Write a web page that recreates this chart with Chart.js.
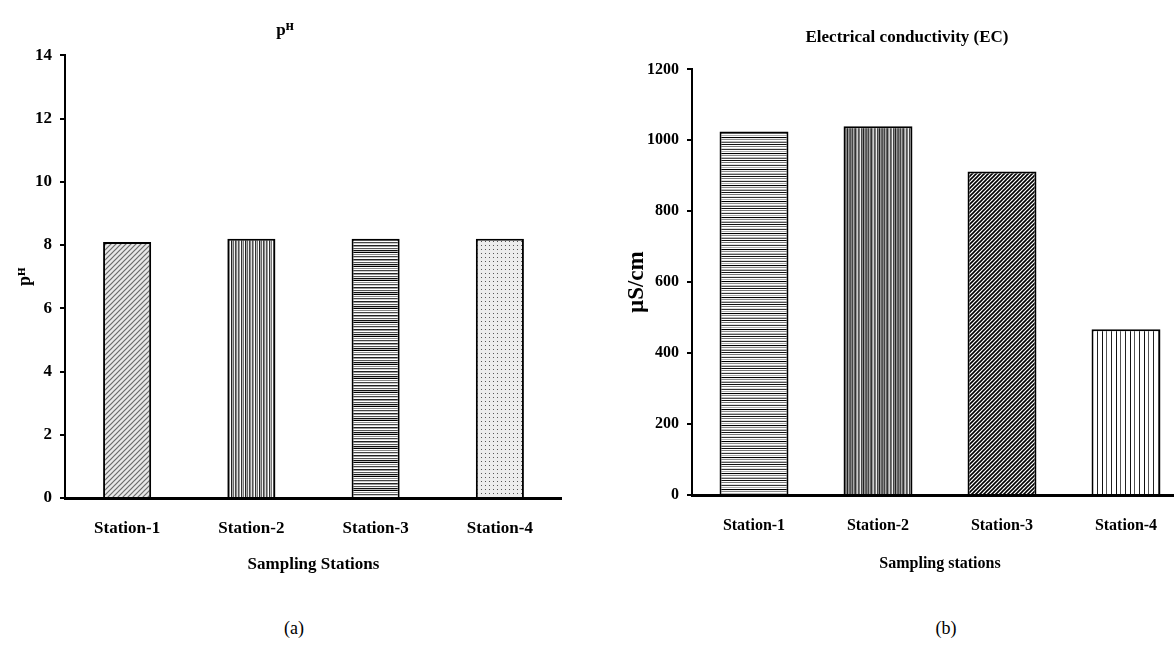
<!DOCTYPE html>
<html>
<head>
<meta charset="utf-8">
<title>Water quality by station</title>
<script src="https://cdn.jsdelivr.net/npm/chart.js@4.4.0/dist/chart.umd.min.js"></script>
<style>
  html, body {
    margin: 0;
    width: 1174px;
    height: 649px;
    overflow: hidden;
    background: #fff;
    position: relative;
  }
  canvas {
    position: absolute;
    top: 0;
  }
  #ph-chart {
    left: 0;
  }
  #ec-chart {
    left: 626px;
  }
  .caption {
    position: absolute;
    top: 618px;
    width: 60px;
    margin-left: -30px;
    text-align: center;
    font: 18px 'Liberation Serif', 'Times New Roman', serif;
    color: #000;
  }
</style>
</head>
<body>
<canvas id="ph-chart" width="562" height="600"></canvas>
<canvas id="ec-chart" width="562" height="600"></canvas>
<div class="caption" style="left: 294px">(a)</div>
<div class="caption" style="left: 946px">(b)</div>

<script>
const stations = ['Station-1', 'Station-2', 'Station-3', 'Station-4'];
const phValues = [8.1, 8.2, 8.2, 8.2];
const ecValues = [1025, 1040, 912, 467];
const phMax = 14;
const phStep = 2;
const ecMax = 1200;
const ecStep = 200;

Chart.defaults.font.family = "'Liberation Serif', 'Times New Roman', 'DejaVu Serif', serif";
Chart.defaults.font.weight = 'bold';
Chart.defaults.color = '#000';

// one-pixel stripes, repeated across the bar
function stripePattern(shades, vertical) {
  const tile = document.createElement('canvas');
  tile.width = vertical ? shades.length : 1;
  tile.height = vertical ? 1 : shades.length;
  const ctx = tile.getContext('2d');
  shades.forEach((shade, i) => {
    ctx.fillStyle = shade;
    if (vertical) {
      ctx.fillRect(i, 0, 1, 1);
    } else {
      ctx.fillRect(0, i, 1, 1);
    }
  });
  return ctx.createPattern(tile, 'repeat');
}

// "////" hatching
function hatchPattern(size, background, lineColor, lineWidth) {
  const tile = document.createElement('canvas');
  tile.width = size;
  tile.height = size;
  const ctx = tile.getContext('2d');
  ctx.fillStyle = background;
  ctx.fillRect(0, 0, size, size);
  ctx.strokeStyle = lineColor;
  ctx.lineWidth = lineWidth;
  ctx.beginPath();
  ctx.moveTo(0, size);
  ctx.lineTo(size, 0);
  ctx.moveTo(-1, 1);
  ctx.lineTo(1, -1);
  ctx.moveTo(size - 1, size + 1);
  ctx.lineTo(size + 1, size - 1);
  ctx.stroke();
  return ctx.createPattern(tile, 'repeat');
}

function dotPattern(size, background, dotColor) {
  const tile = document.createElement('canvas');
  tile.width = size;
  tile.height = size;
  const ctx = tile.getContext('2d');
  ctx.fillStyle = background;
  ctx.fillRect(0, 0, size, size);
  ctx.fillStyle = dotColor;
  ctx.fillRect(1, 1, 1, 1);
  return ctx.createPattern(tile, 'repeat');
}

const phFills = [
  hatchPattern(5, '#e8e8e8', '#6a6a6a', 1.2),
  stripePattern(['#555', '#999', '#fff', '#333', '#bbb', '#777', '#fff', '#222',
    '#aaa', '#666', '#eee', '#444', '#888', '#ddd'], true),
  stripePattern(['#000', '#fff', '#888', '#fff', '#444', '#ccc', '#fff', '#222',
    '#999', '#fff', '#555', '#eee', '#111', '#bbb'], false),
  dotPattern(4, '#ececec', '#555'),
];

const ecFills = [
  stripePattern(['#111', '#fff', '#777', '#fff', '#ddd', '#333', '#fff', '#aaa',
    '#fff', '#000', '#eee', '#888', '#fff', '#bbb', '#555', '#fff'], false),
  stripePattern(['#555', '#888', '#444', '#aaa', '#666', '#333', '#999', '#ccc',
    '#555', '#777', '#eee', '#444', '#888', '#222', '#999', '#666'], true),
  hatchPattern(4, '#fff', '#000', 1.6),
  stripePattern(['#111', '#fff', '#fff', '#fff', '#555', '#fff', '#fff', '#fff',
    '#fff', '#222', '#fff', '#fff', '#fff', '#fff'], true),
];

function forceWidth(width) {
  return (scale) => {
    scale.width = width;
  };
}

function forceHeight(height) {
  return (scale) => {
    scale.height = height;
  };
}

// plain numbers, no thousands separator
function plainNumber(value) {
  return String(value);
}

new Chart(document.getElementById('ph-chart'), {
  type: 'bar',
  data: {
    labels: stations,
    datasets: [
      {
        label: 'pH',
        data: phValues,
        backgroundColor: phFills,
        borderColor: '#000',
        borderWidth: 2,
        barPercentage: 0.387,
        categoryPercentage: 1,
      },
    ],
  },
  options: {
    responsive: false,
    animation: false,
    layout: {
      padding: { left: 8, right: 0, top: 0, bottom: 0 },
    },
    plugins: {
      legend: { display: false },
      tooltip: { enabled: false },
      title: {
        display: true,
        text: 'pᴴ',
        font: { size: 17, weight: 'bold' },
        padding: { top: 20, bottom: 15 },
      },
    },
    scales: {
      x: {
        afterFit: forceHeight(102),
        grid: { display: false, drawTicks: false },
        border: { color: '#000', width: 3 },
        ticks: { padding: 20, font: { size: 17, weight: 'bold' } },
        title: {
          display: true,
          text: 'Sampling Stations',
          font: { size: 17, weight: 'bold' },
          padding: { top: 0, bottom: 25 },
        },
      },
      y: {
        min: 0,
        max: phMax,
        afterFit: forceWidth(57),
        grid: {
          drawOnChartArea: false,
          drawTicks: true,
          tickLength: 5,
          color: '#000',
          lineWidth: 2,
        },
        border: { color: '#000', width: 2 },
        ticks: {
          stepSize: phStep,
          padding: 8,
          callback: plainNumber,
          font: { size: 17, weight: 'bold' },
        },
        title: {
          display: true,
          text: 'pᴴ',
          font: { size: 18, weight: 'bold', lineHeight: 1 },
          padding: { top: 8, bottom: 0 },
        },
      },
    },
  },
});

new Chart(document.getElementById('ec-chart'), {
  type: 'bar',
  data: {
    labels: stations,
    datasets: [
      {
        label: 'EC',
        data: ecValues,
        backgroundColor: ecFills,
        borderColor: '#000',
        borderWidth: 2,
        barPercentage: 0.556,
        categoryPercentage: 1,
      },
    ],
  },
  options: {
    responsive: false,
    animation: false,
    plugins: {
      legend: { display: false },
      tooltip: { enabled: false },
      title: {
        display: true,
        text: 'Electrical conductivity (EC)',
        font: { size: 17, weight: 'bold' },
        padding: { top: 27, bottom: 22 },
      },
    },
    scales: {
      x: {
        afterFit: forceHeight(105),
        grid: { display: false, drawTicks: false },
        border: { color: '#000', width: 3 },
        ticks: { padding: 21, font: { size: 16, weight: 'bold' } },
        title: {
          display: true,
          text: 'Sampling stations',
          font: { size: 16, weight: 'bold' },
          padding: { top: 0, bottom: 27 },
        },
      },
      y: {
        min: 0,
        max: ecMax,
        afterFit: forceWidth(66),
        grid: {
          drawOnChartArea: false,
          drawTicks: true,
          tickLength: 5,
          color: '#000',
          lineWidth: 2,
        },
        border: { color: '#000', width: 2 },
        ticks: {
          stepSize: ecStep,
          padding: 8,
          callback: plainNumber,
          font: { size: 16, weight: 'bold' },
        },
        title: {
          display: true,
          text: 'µS/cm',
          font: { size: 23, weight: 'bold', lineHeight: 1 },
          padding: { top: 0, bottom: 0 },
        },
      },
    },
  },
});
</script>
</body>
</html>
